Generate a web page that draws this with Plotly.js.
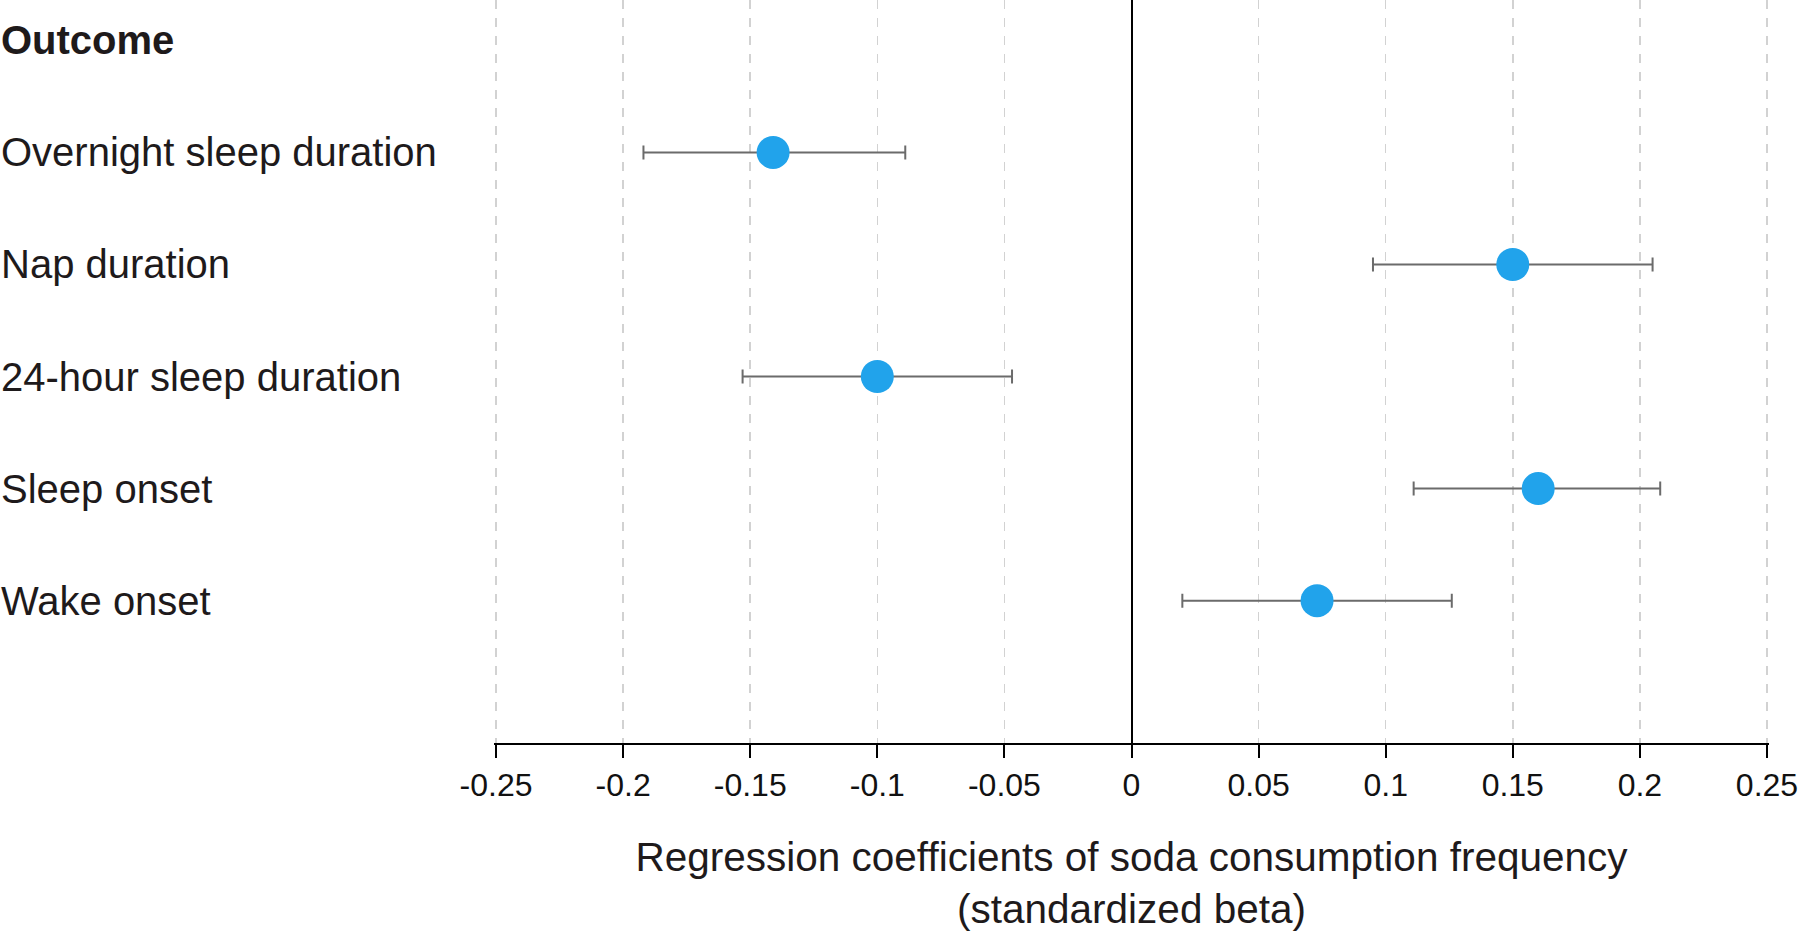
<!DOCTYPE html>
<html>
<head>
<meta charset="utf-8">
<script src="https://cdn.plot.ly/plotly-3.0.1.min.js"></script>
<style>html,body{margin:0;padding:0;background:#fff;}#chart{width:1800px;height:933px;}</style>
</head>
<body>
<div id="chart"></div>
<script>
// Outcomes (top to bottom)
const outcomes = ["Overnight sleep duration", "Nap duration", "24-hour sleep duration", "Sleep onset", "Wake onset"];
const headerLabel = "Outcome";
// Standardized beta and 95% CI
const beta  = [-0.141, 0.150, -0.100, 0.160, 0.073];
const lower = [-0.192, 0.095, -0.153, 0.111, 0.020];
const upper = [-0.089, 0.205, -0.047, 0.208, 0.126];
// X tick values and labels
const tickVals = [-0.25, -0.2, -0.15, -0.1, -0.05, 0, 0.05, 0.1, 0.15, 0.2, 0.25];
const tickText = ["-0.25", "-0.2", "-0.15", "-0.1", "-0.05", "0", "0.05", "0.1", "0.15", "0.2", "0.25"];
const xTitle = "Regression coefficients of soda consumption frequency<br>(standardized beta)";

// y positions: bottom category index 0, header at top
const n = outcomes.length;
const yPos = outcomes.map((_, i) => n - 1 - i);
const headerPos = n;

const trace = {
  type: "scatter",
  mode: "markers",
  x: beta,
  y: yPos,
  marker: {size: 33, color: "#21a3eb", line: {width: 0}},
  error_x: {
    type: "data",
    symmetric: false,
    array: upper.map((u, i) => u - beta[i]),
    arrayminus: beta.map((b, i) => b - lower[i]),
    color: "#6b6b6b",
    thickness: 2,
    width: 7
  },
  hoverinfo: "skip",
  showlegend: false
};

const labelX = -0.3886;
const labelFont = {family: "Liberation Sans, Arial, sans-serif", size: 40, color: "#1e1a1b"};
const annotations = outcomes.map((t, i) => ({
  text: t, xref: "paper", yref: "y", x: labelX, y: yPos[i],
  xanchor: "left", yanchor: "middle", showarrow: false, font: labelFont
}));
annotations.push({
  text: "<b>" + headerLabel + "</b>", xref: "paper", yref: "y", x: labelX, y: headerPos,
  xanchor: "left", yanchor: "middle", showarrow: false,
  font: {family: "Liberation Sans, Arial, sans-serif", size: 40, color: "#1e1a1b"}
});

const layout = {
  width: 1800, height: 933,
  margin: {l: 494, r: 31, t: 0, b: 190},
  paper_bgcolor: "#fff", plot_bgcolor: "#fff",
  xaxis: {
    range: [-0.2508, 0.2508],
    tickvals: tickVals, ticktext: tickText,
    showgrid: true, gridcolor: "#d2d2d2", gridwidth: 1.5, griddash: "dash",
    zeroline: true, zerolinecolor: "#000", zerolinewidth: 2,
    showline: true, linecolor: "#000", linewidth: 2,
    ticks: "outside", ticklen: 13, tickwidth: 2, tickcolor: "#000",
    tickfont: {family: "Liberation Sans Narrow, Arial Narrow, sans-serif", size: 32, color: "#111"},
    title: {text: xTitle, font: {family: "Liberation Sans, Arial, sans-serif", size: 40.5, color: "#1e1a1b"}, standoff: 40},
    automargin: false,
    fixedrange: true
  },
  yaxis: {
    range: [-1.27, 5.36],
    showgrid: false, zeroline: false, showline: false, showticklabels: false, ticks: "",
    fixedrange: true
  },
  annotations: annotations
};

Plotly.newPlot("chart", [trace], layout, {displayModeBar: false, staticPlot: true});
</script>
</body>
</html>
